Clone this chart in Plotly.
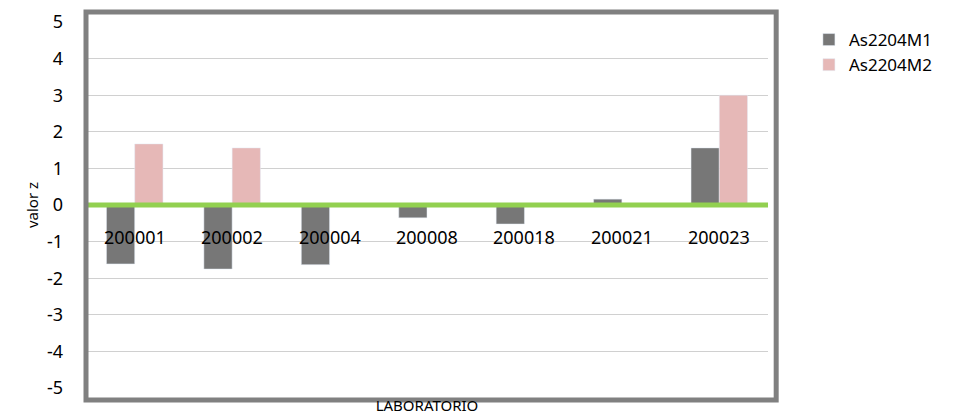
import plotly.graph_objects as go

labs = ["200001", "200002", "200004", "200008", "200018", "200021", "200023"]
m1 = [-1.61, -1.75, -1.63, -0.35, -0.52, 0.16, 1.56]
m2 = [1.67, 1.56, 0, 0, 0, 0, 3.0]
yticks = list(range(-5, 6))
pos = list(range(len(labs)))

fig = go.Figure()
fig.add_trace(go.Bar(x=pos, y=m1, name="As2204M1", marker_color="#777777"))
fig.add_trace(go.Bar(x=pos, y=m2, name="As2204M2", marker_color="#e6b8b7"))

# category labels sit just under the zero line
for p, c in zip(pos, labs):
    fig.add_annotation(x=p, y=0, text=c, showarrow=False, yanchor="top", yshift=-18,
                       font=dict(size=18, color="#000"))

fig.add_shape(type="line", xref="paper", yref="y", x0=0, x1=1, y0=0, y1=0,
              line=dict(color="#92d050", width=5))
fig.add_shape(type="rect", xref="paper", yref="paper", x0=0, x1=1.012,
              y0=-0.033, y1=1.027, line=dict(color="#808080", width=5))

fig.update_layout(
    width=958, height=416, barmode="group", bargap=0.42, bargroupgap=0,
    plot_bgcolor="white", paper_bgcolor="white",
    font=dict(family="Noto Sans, Liberation Sans", size=18, color="#000"),
    margin=dict(l=78, r=198, t=14, b=36, autoexpand=False),
    xaxis=dict(range=[-0.5, len(labs) - 0.5], showticklabels=False, showgrid=False,
               zeroline=False,
               title=dict(text="LABORATORIO", font=dict(size=15), standoff=12)),
    yaxis=dict(range=[-5, 5], tickvals=yticks, ticktext=[str(v) for v in yticks],
               showgrid=True, gridcolor="#d0d0d0", ticklabelstandoff=22,
               zeroline=False, ticks="", ticklen=0,
               title=dict(text="valor z", font=dict(size=15), standoff=4)),
    legend=dict(x=1.06, y=1.0, xanchor="left", yanchor="top", font=dict(size=17)),
)
fig.write_html("out.html")
